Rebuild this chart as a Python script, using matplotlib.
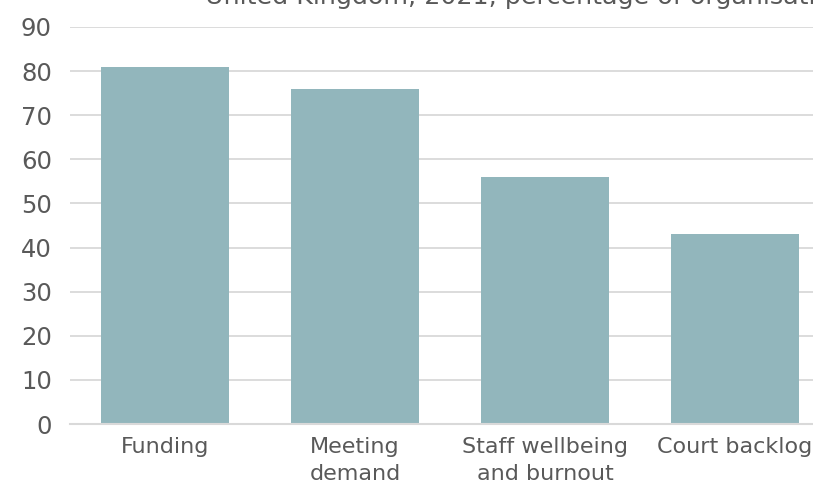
import matplotlib
matplotlib.use("Agg")
import matplotlib.pyplot as plt
import numpy as np

# data
categories = ["Funding", "Meeting\ndemand", "Staff wellbeing\nand burnout", "Court backlog"]
values = [81, 76, 56, 43]
yticks = [0, 10, 20, 30, 40, 50, 60, 70, 80, 90]

bar_col = "#92b6bc"
txt_col = "#595959"
grid_col = "#d9d9d9"

plt.rcParams['font.family'] = ['DejaVu Sans']

W, H = 813, 483
fig = plt.figure(figsize=(W / 100, H / 100), dpi=100)

# axes runs a bit past the right edge (chart is cropped)
left, right = 70, 830
bottom, top = 424, 27
ax = fig.add_axes([left / W, 1 - bottom / H, (right - left) / W, (bottom - top) / H])

x = np.arange(len(categories))
ax.bar(x, values, width=0.67, color=bar_col, zorder=3)

ax.set_xlim(-0.5, len(categories) - 0.5)
ax.set_ylim(0, 90)
ax.set_yticks(yticks)
ax.set_xticks(x)
ax.set_xticklabels(categories, fontsize=16, color=txt_col, linespacing=1.45)
ax.tick_params(axis='y', length=0, pad=13, labelsize=17.5, labelcolor=txt_col)
ax.tick_params(axis='x', length=0, pad=9.5)

ax.grid(axis='y', color=grid_col, linewidth=1.3, zorder=0)
for s in ["top", "right", "left"]:
    ax.spines[s].set_visible(False)
ax.spines["bottom"].set_color(grid_col)
ax.spines["bottom"].set_linewidth(1.5)
ax.spines["bottom"].set_zorder(4)

# title, mostly cut off at the top of the picture
fig.text(205 / W, 1 - 4 / H, "United Kingdom, 2021, percentage of organisations",
         fontsize=18.3, color=txt_col, va='baseline', ha='left')

fig.savefig("out.png", dpi=100)
